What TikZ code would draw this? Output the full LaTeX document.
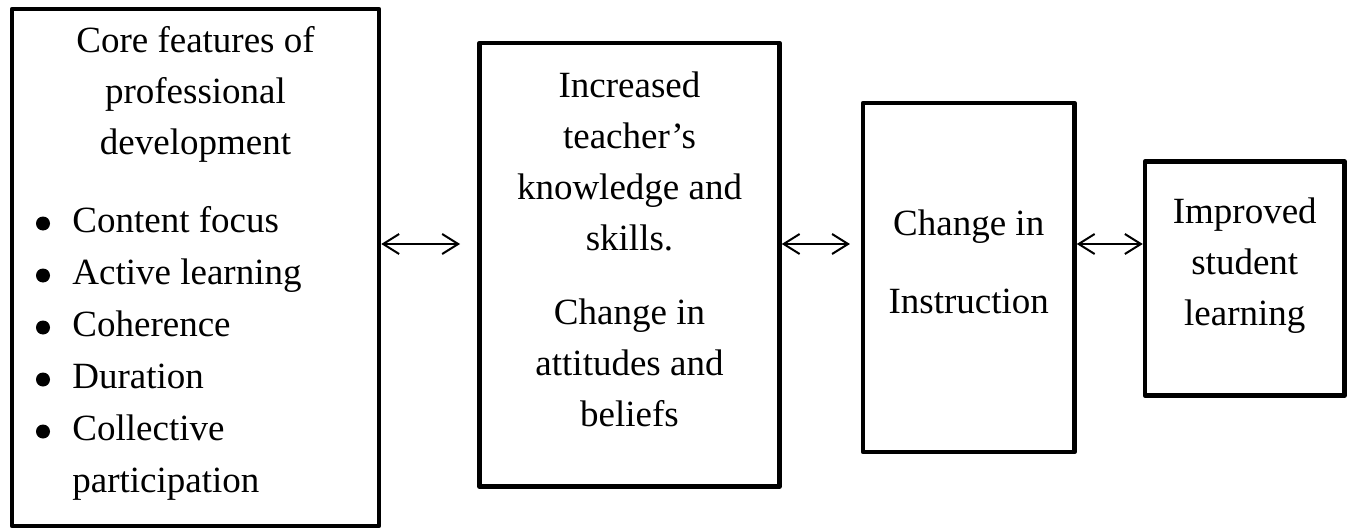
\documentclass[tikz,border=0pt]{standalone}
\usepackage{fontspec}
\setmainfont{Liberation Serif}
\usetikzlibrary{arrows.meta}
\begin{document}
\begin{tikzpicture}[x=0.5pt,y=-0.5pt,
    box/.style={draw, line width=2.25pt, line join=round, inner sep=0pt},
    txt/.style={inner sep=0pt, anchor=base, align=flush center, font=\fontsize{18.5}{25.5}\selectfont},
    dbl/.style={{Straight Barb[length=8pt,width=10pt]}-{Straight Barb[length=8pt,width=10pt]}, line width=1pt}]
  \useasboundingbox (0,0) rectangle (1352,529);
  % boxes
  \node[box, minimum width=183.5pt, minimum height=258.5pt] (core) at (195.5,267.5) {};
  \node[box, minimum width=150pt, minimum height=221.75pt] (know) at (629.5,264.75) {};
  \node[box, minimum width=105.75pt, minimum height=174.5pt] (instr) at (968.75,277.5) {};
  \node[box, minimum width=99.75pt, minimum height=117pt] (stud) at (1244.75,278.5) {};
  % texts
  \node[txt, text width=170pt] (coretitle) at (195.5,53)
    {Core features of\\ professional\\ development};
  \node[txt, anchor=base west, text width=150pt, align=flush left,
        font=\fontsize{18.5}{26}\selectfont] (corelist) at (72,232)
    {Content focus\\ Active learning\\ Coherence\\ Duration\\ Collective\\ participation};
  \foreach \y in {232,284,336,388,440}
    \fill (43,\y-8.5) circle (3.5pt);
  \node[txt, text width=140pt] (knowtext) at (629.5,98)
    {Increased\\ teacher’s\\ knowledge and\\ skills.\par\vspace{11pt}
     Change in\\ attitudes and\\ beliefs};
  \node[txt, text width=100pt] (instrtext) at (968.75,235)
    {Change in\par\vspace{13.5pt}Instruction};
  \node[txt, text width=95pt] (studtext) at (1244.75,223)
    {Improved\\ student\\ learning};
  % connectors
  \coordinate (arrowy) at (0,244);
  \draw[dbl, shorten >=8.6pt] (core.east |- arrowy) -- (know.west |- arrowy);
  \draw[dbl, shorten >=5.4pt] (know.east |- arrowy) -- (instr.west |- arrowy);
  \draw[dbl] (instr.east |- arrowy) -- (stud.west |- arrowy);
\end{tikzpicture}
\end{document}
